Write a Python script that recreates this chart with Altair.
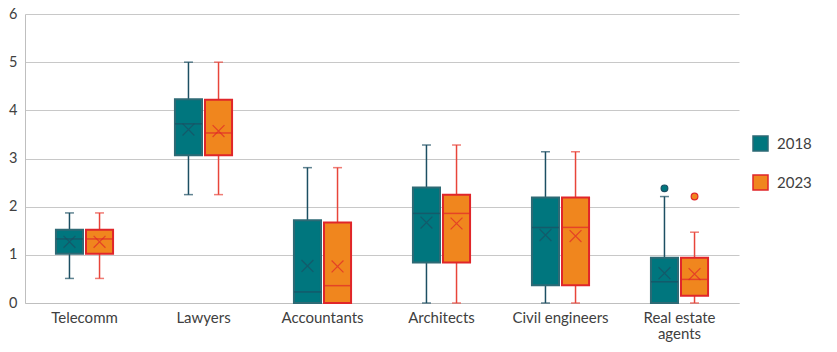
import altair as alt
import pandas as pd

categories = ["Telecomm", "Lawyers", "Accountants", "Architects", "Civil engineers", "Real estate agents"]
years = ["2018", "2023"]

lo_2018 = [0.51, 2.25, 0.0, 0.0, 0.0, 0.0]
q1_2018 = [1.02, 3.07, 0.0, 0.84, 0.37, 0.0]
med_2018 = [1.33, 3.72, 0.23, 1.86, 1.57, 0.44]
q3_2018 = [1.52, 4.23, 1.72, 2.40, 2.19, 0.94]
hi_2018 = [1.87, 5.0, 2.81, 3.28, 3.14, 2.21]
mean_2018 = [1.27, 3.60, 0.77, 1.67, 1.41, 0.62]

lo_2023 = [0.51, 2.25, 0.0, 0.0, 0.0, 0.0]
q1_2023 = [1.02, 3.07, 0.0, 0.84, 0.37, 0.15]
med_2023 = [1.33, 3.53, 0.36, 1.86, 1.57, 0.49]
q3_2023 = [1.52, 4.22, 1.67, 2.25, 2.19, 0.94]
hi_2023 = [1.87, 5.0, 2.81, 3.28, 3.14, 1.47]
mean_2023 = [1.27, 3.57, 0.76, 1.65, 1.39, 0.60]

outlier_cat = ["Real estate agents", "Real estate agents"]
outlier_year = ["2018", "2023"]
outlier_val = [2.38, 2.21]

rows = []
for y, lo, q1, med, q3, hi, mn in [
    ("2018", lo_2018, q1_2018, med_2018, q3_2018, hi_2018, mean_2018),
    ("2023", lo_2023, q1_2023, med_2023, q3_2023, hi_2023, mean_2023),
]:
    for i, c in enumerate(categories):
        rows.append(dict(cat=c, year=y, lo=lo[i], q1=q1[i], med=med[i], q3=q3[i], hi=hi[i], mean=mn[i]))
df = pd.DataFrame(rows)
out_df = pd.DataFrame(dict(cat=outlier_cat, year=outlier_year, val=outlier_val))

TEAL = "#00767E"
TEAL_STROKE = "#2E6A75"
TEAL_DARK = "#1C4F63"
ORANGE = "#F0861E"
RED = "#E0262A"
RED_LIGHT = "#E8453A"

font = "Lato"

x_enc = alt.X(
    "cat:N", sort=categories, title=None,
    scale=alt.Scale(paddingInner=0.52, paddingOuter=0.26),
    axis=alt.Axis(
        labelAngle=0, labelFontSize=15, labelColor="#404040", labelFont=font,
        ticks=False, domainColor="#BFBFBF", labelPadding=7,
        labelExpr="datum.label == 'Real estate agents' ? ['Real estate', 'agents'] : datum.label",
        labelLineHeight=16.5,
    ),
)
xo = alt.XOffset("year:N", sort=years, scale=alt.Scale(paddingInner=0.1, paddingOuter=0))
y_scale = alt.Scale(domain=[0, 6], nice=False)
y_axis = alt.Axis(
    values=[0, 1, 2, 3, 4, 5, 6], labelFontSize=14.5, labelColor="#404040", labelFont=font,
    ticks=False, domainColor="#BFBFBF", gridColor="#C8C8C8", labelPadding=8, title=None,
)

line_col = alt.condition(alt.datum.year == "2018", alt.value(TEAL_DARK), alt.value(RED_LIGHT))
mark_col = alt.condition(alt.datum.year == "2018", alt.value(TEAL_DARK), alt.value(RED))

base = alt.Chart(df)

whisker = base.mark_rule(strokeWidth=1.5).encode(
    x=x_enc, xOffset=xo,
    y=alt.Y("lo:Q", scale=y_scale, axis=y_axis), y2="hi:Q",
    stroke=line_col,
)

caps = base.transform_fold(["lo", "hi"], as_=["k", "v"]).mark_tick(size=9, thickness=1.5).encode(
    x=x_enc, xOffset=xo, y=alt.Y("v:Q", scale=y_scale), color=line_col,
)

leg = alt.Legend(title=None, orient="none", legendX=727, legendY=121,
                 symbolType="square", symbolSize=225, symbolStrokeWidth=1.5,
                 labelFontSize=15, labelFont=font, labelColor="#404040",
                 rowPadding=18, labelOffset=8, padding=0)

box = base.mark_bar(strokeWidth=2).encode(
    x=x_enc, xOffset=xo,
    y=alt.Y("q1:Q", scale=y_scale), y2="q3:Q",
    fill=alt.Fill("year:N", scale=alt.Scale(domain=years, range=[TEAL, ORANGE]), legend=leg),
    stroke=alt.Stroke("year:N", scale=alt.Scale(domain=years, range=[TEAL_STROKE, RED]), legend=leg),
)

median = base.mark_tick(size=27, thickness=1.5).encode(
    x=x_enc, xOffset=xo, y=alt.Y("med:Q", scale=y_scale), color=mark_col,
)

mean = base.mark_point(shape="M-1,-1L1,1M-1,1L1,-1", size=140, filled=False, strokeWidth=1.2).encode(
    x=x_enc, xOffset=xo, y=alt.Y("mean:Q", scale=y_scale), stroke=mark_col,
)

outl = alt.Chart(out_df).mark_point(shape="circle", size=45, filled=True, strokeWidth=1.2, opacity=1).encode(
    x=x_enc, xOffset=xo, y=alt.Y("val:Q", scale=y_scale),
    fill=alt.condition(alt.datum.year == "2018", alt.value(TEAL), alt.value(ORANGE)),
    stroke=alt.condition(alt.datum.year == "2018", alt.value(TEAL_DARK), alt.value(RED)),
)

chart = alt.layer(whisker, caps, box, median, mean, outl).properties(
    width=714, height=289,
    padding={"left": 25, "top": 14, "right": 98, "bottom": 49},
    autosize=alt.AutoSizeParams(type="none"),
).configure(font=font).configure_view(stroke=None)

chart.save("out.html", embed_options={"renderer": "svg", "actions": False})
